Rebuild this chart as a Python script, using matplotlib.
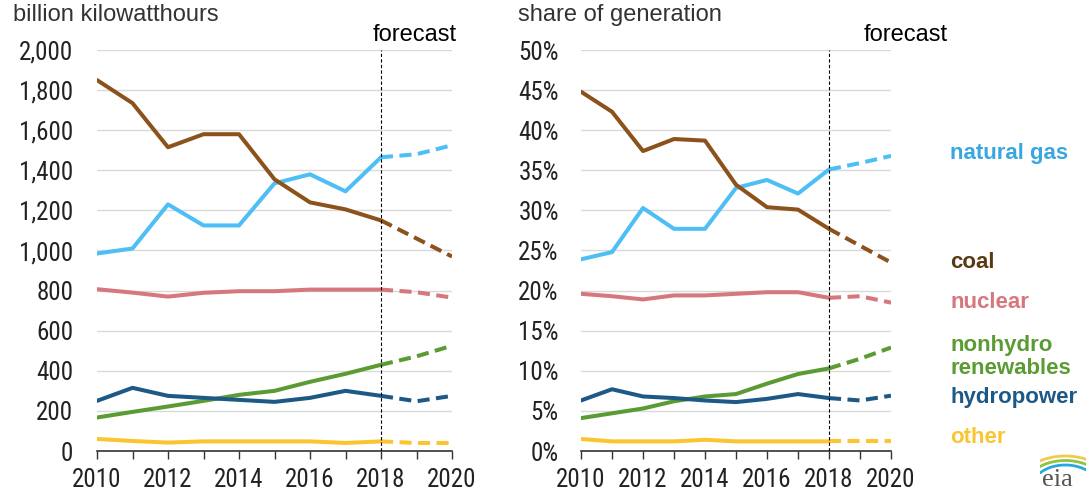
import matplotlib
matplotlib.use('Agg')
from matplotlib import pyplot as plt
from matplotlib.patches import Arc

years = list(range(2010, 2021))

# billion kilowatthours
coal_kwh = [1850, 1735, 1515, 1580, 1580, 1355, 1240, 1205, 1150, 1060, 970]
gas_kwh = [985, 1010, 1230, 1125, 1125, 1335, 1380, 1295, 1465, 1480, 1525]
nuclear_kwh = [807, 790, 770, 789, 797, 797, 805, 805, 805, 792, 765]
nonhydro_kwh = [167, 195, 222, 250, 280, 300, 345, 385, 430, 472, 525]
hydro_kwh = [250, 315, 275, 265, 255, 245, 265, 300, 275, 248, 275]
other_kwh = [60, 50, 42, 48, 48, 48, 48, 40, 48, 40, 40]

# share of generation (%)
coal_pct = [44.8, 42.3, 37.4, 38.9, 38.7, 33.2, 30.4, 30.1, 27.7, 25.6, 23.5]
gas_pct = [23.9, 24.8, 30.3, 27.7, 27.7, 32.8, 33.8, 32.1, 35.1, 35.9, 36.8]
nuclear_pct = [19.6, 19.3, 18.9, 19.4, 19.4, 19.6, 19.8, 19.8, 19.1, 19.3, 18.5]
nonhydro_pct = [4.1, 4.7, 5.3, 6.2, 6.8, 7.1, 8.4, 9.6, 10.3, 11.5, 12.9]
hydro_pct = [6.3, 7.7, 6.8, 6.6, 6.3, 6.1, 6.5, 7.1, 6.6, 6.3, 6.9]
other_pct = [1.5, 1.2, 1.2, 1.2, 1.4, 1.2, 1.2, 1.2, 1.2, 1.2, 1.2]

labels = ['natural gas', 'coal', 'nuclear', 'nonhydro\nrenewables', 'hydropower', 'other']
colors = ['#4dbff5', '#8c521c', '#d6777e', '#5b9b34', '#1d5986', '#fbc532']
label_colors = ['#3aa6e0', '#5a3a12', '#d6777e', '#5b9b34', '#1d5986', '#fbc532']
label_y = [153, 263, 302, 357, 397, 437]  # pixel rows for right-side labels

FONT = ['Roboto Condensed', 'Liberation Sans', 'DejaVu Sans']
WIDE = ['Liberation Sans', 'DejaVu Sans']
plt.rcParams['font.family'] = FONT

W, H = 1089, 494
fig = plt.figure(figsize=(W / 100, H / 100), dpi=100)

ax1 = fig.add_axes([97 / W, (H - 451) / H, 355 / W, 401 / H])
ax2 = fig.add_axes([581 / W, (H - 451) / H, 310 / W, 401 / H])

forecast_idx = years.index(2018)


def draw(ax, series, ypad):
    for vals, c in zip(series, colors):
        ax.plot(years[:forecast_idx + 1], vals[:forecast_idx + 1], color=c,
                linewidth=2.9, solid_capstyle='round', zorder=3)
        ax.plot(years[forecast_idx:], vals[forecast_idx:], color=c,
                linewidth=2.9, linestyle=(0, (3, 1.6)), zorder=3)
    ax.axvline(2018, color='black', linewidth=0.8, linestyle=(0, (3, 2)), zorder=4)
    ax.set_xlim(2010, 2020)
    ax.set_xticks(years)
    ax.set_xticklabels([str(y) if y % 2 == 0 else '' for y in years])
    for s in ['top', 'right', 'left']:
        ax.spines[s].set_visible(False)
    ax.spines['bottom'].set_color('#333333')
    ax.spines['bottom'].set_linewidth(1.2)
    ax.tick_params(axis='x', length=6, width=1, color='#333333', labelsize=18,
                   labelcolor='#222222', pad=6)
    ax.tick_params(axis='y', length=0, labelsize=18, labelcolor='#222222', pad=ypad)
    ax.grid(axis='y', color='#d9d9d9', linewidth=1)
    ax.set_axisbelow(True)


draw(ax1, [gas_kwh, coal_kwh, nuclear_kwh, nonhydro_kwh, hydro_kwh, other_kwh], 17)
ax1.set_ylim(0, 2000)
ax1.set_yticks(range(0, 2001, 200))
ax1.set_yticklabels([f'{v:,}' for v in range(0, 2001, 200)])

draw(ax2, [gas_pct, coal_pct, nuclear_pct, nonhydro_pct, hydro_pct, other_pct], 16)
ax2.set_ylim(0, 50)
ax2.set_yticks(range(0, 51, 5))
ax2.set_yticklabels([f'{v}%' for v in range(0, 51, 5)])

fig.text(13 / W, 1 - 15 / H, 'billion kilowatthours', fontsize=17, family=WIDE,
         color='#333333', va='center', ha='left')
fig.text(518 / W, 1 - 15 / H, 'share of generation', fontsize=17, family=WIDE,
         color='#333333', va='center', ha='left')
fig.text(373 / W, 1 - 35 / H, 'forecast', fontsize=17, family=WIDE, color='black',
         va='center', ha='left')
fig.text(864 / W, 1 - 35 / H, 'forecast', fontsize=17, family=WIDE, color='black',
         va='center', ha='left')

for lab, c, y in zip(labels, label_colors, label_y):
    fig.text(950 / W, 1 - y / H, lab, fontsize=16, color=c, fontweight='bold',
             family=WIDE, va='center', ha='left', linespacing=1.1)

# eia logo
fig.text(1057 / W, 1 - 480 / H, 'eia', fontsize=19, color='#555555',
         family=['Liberation Serif', 'DejaVu Serif'], ha='center', va='center')
logo = fig.add_axes([1040 / W, (H - 474) / H, 46 / W, 20 / H])
logo.set_xlim(0, 1)
logo.set_ylim(0, 1)
logo.axis('off')
for (r, c) in [(1.0, '#f2c94c'), (0.85, '#8cc63f'), (0.7, '#29a8e0')]:
    logo.add_patch(Arc((0.55, -0.6), 2 * r, 3.0 * r, theta1=20, theta2=140,
                       color=c, linewidth=2))

fig.savefig('out.png', dpi=100)
